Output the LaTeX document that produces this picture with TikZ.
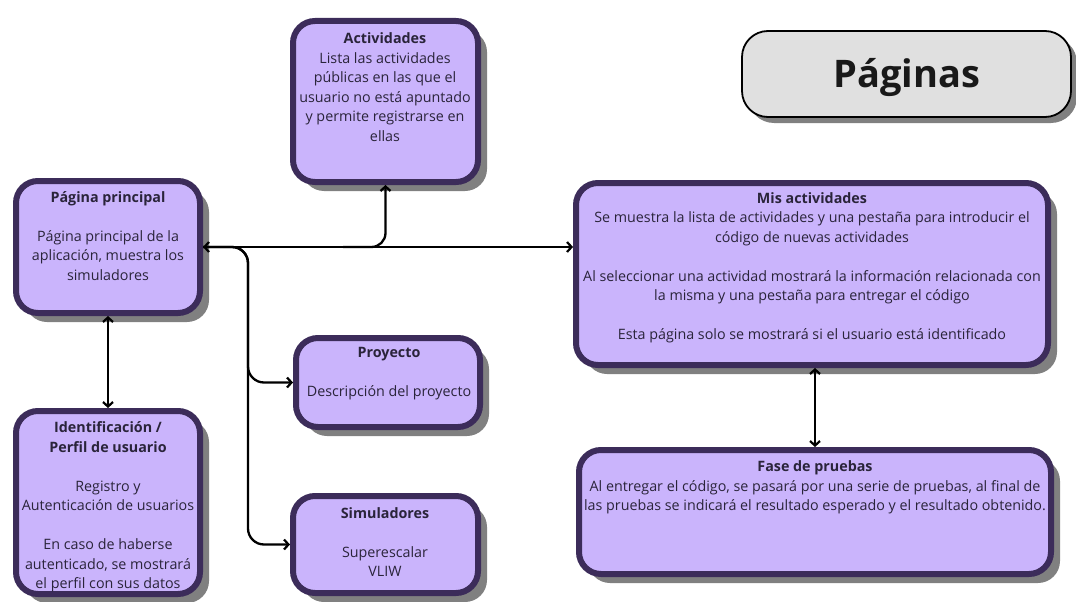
\documentclass[tikz,border=0pt]{standalone}
\usepackage{fontspec}
\setmainfont{Open Sans}
\usetikzlibrary{shadows,arrows.meta,calc}
\definecolor{boxfill}{RGB}{202,180,252}
\definecolor{boxline}{RGB}{60,44,90}
\definecolor{shadowgray}{RGB}{128,128,128}
\definecolor{textcol}{RGB}{42,36,58}
\definecolor{titlefill}{RGB}{224,224,224}

\tikzset{
  pagebox/.style={draw=boxline, line width=6pt, fill=boxfill, rounded corners=22pt,
    drop shadow={shadow xshift=9pt, shadow yshift=-9pt, fill=shadowgray, opacity=1}},
  pagetext/.style={align=center, text=textcol, inner sep=0pt,
    font=\fontsize{14.3}{19.5}\selectfont},
  arr/.style={line width=2.3pt, -{Straight Barb[length=4.5pt,width=10pt,line width=2.2pt]}},
  twoway/.style={line width=2.3pt, {Straight Barb[length=4.5pt,width=10pt,line width=2.2pt]}-{Straight Barb[length=4.5pt,width=10pt,line width=2.2pt]}},
}

\begin{document}
\begin{tikzpicture}[x=1pt,y=-1pt]
  \useasboundingbox (0,0) rectangle (1076,602);

  % cajas
  \node[pagebox, minimum width=184, minimum height=132] (ppal) at (108,247) {};
  \node[pagebox, minimum width=185, minimum height=161] (activ) at (385.5,101.5) {};
  \node[pagebox, minimum width=472, minimum height=182] (misact) at (812,274) {};
  \node[pagebox, minimum width=184, minimum height=89] (proy) at (388,382.5) {};
  \node[pagebox, minimum width=185, minimum height=97] (simul) at (385.5,544.5) {};
  \node[pagebox, minimum width=184, minimum height=183] (ident) at (108,502.5) {};
  \node[pagebox, minimum width=472, minimum height=124] (fase) at (815,512) {};

  % titulo
  \node[draw=black, line width=1.8pt, fill=titlefill, rounded corners=26pt,
    minimum width=329, minimum height=86,
    drop shadow={shadow xshift=6pt, shadow yshift=-6pt, fill=shadowgray, opacity=1}] (paginas) at (906.5,74) {};
  \node[font=\fontsize{38}{44}\selectfont\bfseries, text=black!90, inner sep=0pt] (paginastxt) at (907,78) {Páginas};

  % textos
  \node[pagetext] (ppaltxt) at (108,236) {\textbf{Página principal}\\[19.5pt]
    Página principal de la\\ aplicación, muestra los\\ simuladores};
  \node[pagetext] (activtxt) at (385,87) {\textbf{Actividades}\\ Lista las actividades\\
    públicas en las que el\\ usuario no está apuntado\\ y permite registrarse en\\ ellas};
  \node[pagetext] (misacttxt) at (812,268) {\textbf{Mis actividades}\\
    Se muestra la lista de actividades y una pestaña para introducir el\\
    código de nuevas actividades\\[19.5pt]
    Al seleccionar una actividad mostrará la información relacionada con\\
    la misma y una pestaña para entregar el código\\[19.5pt]
    Esta página solo se mostrará si el usuario está identificado};
  \node[pagetext] (proytxt) at (389,373.5) {\textbf{Proyecto}\\[19.5pt] Descripción del proyecto};
  \node[pagetext] (simultxt) at (385,542) {\textbf{Simuladores}\\[19.5pt] Superescalar\\ VLIW};
  \node[pagetext] (identtxt) at (108,507) {\textbf{Identificación /}\\ \textbf{Perfil de usuario}\\[19.5pt]
    Registro y\\ Autenticación de usuarios\\[19.5pt]
    En caso de haberse\\ autenticado, se mostrará\\ el perfil con sus datos};
  \node[pagetext] (fasetxt) at (815,487.5) {\textbf{Fase de pruebas}\\
    Al entregar el código, se pasará por una serie de pruebas, al final de\\
    las pruebas se indicará el resultado esperado y el resultado obtenido.};

  % conexiones
  \coordinate (bus) at (248,0);
  \draw[twoway] (ppal.east) -- (ppal.east -| misact.west);
  \draw[arr, rounded corners=14pt] ($(ppal.east)+(140,0)$) -| (activ.south);
  \draw[arr, rounded corners=16pt] (ppal.east) -| (bus |- proy.west) -- (proy.west);
  \draw[arr, rounded corners=16pt] (ppal.east) -| (bus |- simul.west) -- (simul.west);
  \draw[twoway] (ppal.south) -- (ident.north);
  \draw[twoway] (fase.north |- misact.south) -- (fase.north);
\end{tikzpicture}
\end{document}
